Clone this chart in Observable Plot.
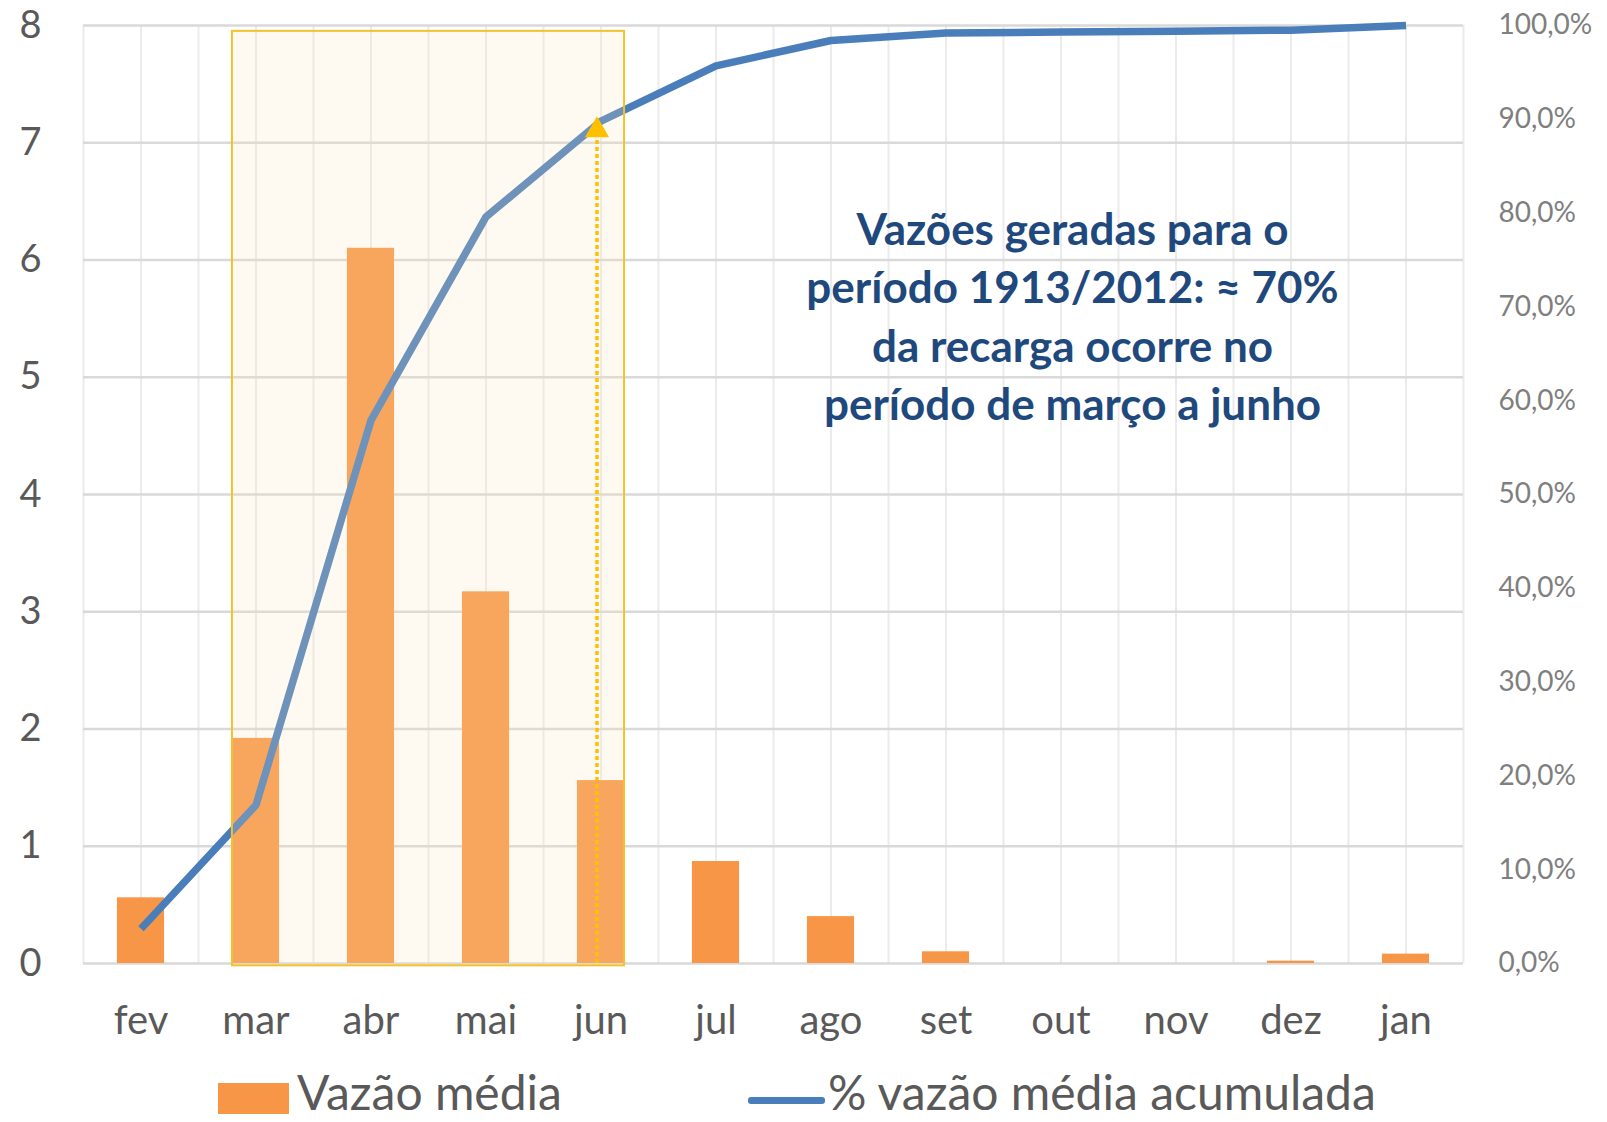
<!DOCTYPE html>
<html>
<head>
<meta charset="utf-8">
<script src="https://cdn.jsdelivr.net/npm/d3@7"></script>
<script src="https://cdn.jsdelivr.net/npm/@observablehq/plot@0.6"></script>
<style>
  html, body { margin: 0; padding: 0; background: #ffffff; overflow: hidden; }
  #legend { position: relative; width: 1607px; height: 62px; font-family: Lato, sans-serif; color: #595959; }
  #legend .sw { position: absolute; }
  #legend .lt { position: absolute; font-size: 48px; line-height: normal; white-space: nowrap; }
</style>
</head>
<body>
<div id="chart"></div>
<div id="legend">
  <div class="sw" style="left:218px; top:23px; width:71px; height:31px; background:#F79646;"></div>
  <div class="lt" style="left:297px; top:3px;">Vazão média</div>
  <div class="sw" style="left:748px; top:37px; width:77px; height:7px; background:#4A7EBB; border-radius:3px;"></div>
  <div class="lt" style="left:828px; top:3px;">% vazão média acumulada</div>
</div>
<script>
// ---- data ----
const months = ["fev", "mar", "abr", "mai", "jun", "jul", "ago", "set", "out", "nov", "dez", "jan"];
const vazaoMedia = [0.56, 1.92, 6.10, 3.17, 1.56, 0.87, 0.40, 0.10, 0, 0, 0.02, 0.08];
const acumuladaPct = [3.7, 16.9, 57.9, 79.6, 89.8, 95.7, 98.4, 99.2, 99.3, 99.4, 99.5, 100];
const leftTicks = [0, 1, 2, 3, 4, 5, 6, 7, 8];
const rightTicks = [0, 10, 20, 30, 40, 50, 60, 70, 80, 90, 100];
const highlightFrom = "mar";
const highlightTo = "jun";
const arrowMonth = "jun";
const annotation = "Vazões geradas para o\nperíodo 1913/2012: ≈ 70%\nda recarga ocorre no\nperíodo de março a junho";

// ---- derived ----
const yMax = 8;
const pctToY = p => p / 100 * yMax;
const rows = months.map((m, i) => ({i, m, v: vazaoMedia[i], p: acumuladaPct[i]}));
const barHalf = 0.205;
const iFrom = months.indexOf(highlightFrom);
const iTo = months.indexOf(highlightTo);
const arrowRow = rows[months.indexOf(arrowMonth)];
const gridX = d3.range(-0.5, months.length, 0.5);

const plot = Plot.plot({
  width: 1607,
  height: 1060,
  marginLeft: 83,
  marginRight: 144,
  marginTop: 25,
  marginBottom: 97,
  style: {fontFamily: "Lato, sans-serif", color: "#595959", background: "#ffffff"},
  x: {domain: [-0.5, months.length - 0.5], axis: null},
  y: {domain: [0, yMax], axis: null},
  marks: [
    Plot.ruleX(gridX, {y1: 0, y2: yMax, stroke: "#EBEBEB", strokeWidth: 2}),
    Plot.ruleY(leftTicks, {stroke: "#D9D9D9", strokeWidth: 2.5}),
    Plot.rectY(rows, {x1: d => d.i - barHalf, x2: d => d.i + barHalf, y: "v", fill: "#F79646"}),
    Plot.line(rows, {x: "i", y: d => pctToY(d.p), stroke: "#4A7EBB", strokeWidth: 7.5, strokeLinejoin: "round", strokeLinecap: "butt"}),
    Plot.rect([0], {x1: iFrom - barHalf, x2: iTo + barHalf, y1: -0.02, y2: 7.95, fill: "#FFE8B8", fillOpacity: 0.2, stroke: "#F2C12E", strokeWidth: 2}),
    Plot.ruleX([arrowRow], {x: "i", y1: 0, y2: d => pctToY(d.p) - 0.1, stroke: "#FFC000", strokeWidth: 3.5, strokeDasharray: "4,3", dx: -4}),
    Plot.dot([arrowRow], {x: "i", y: d => pctToY(d.p), symbol: "triangle", r: 9, fill: "#FFC000", stroke: null, dx: -4, dy: 9}),
    Plot.text([annotation], {x: 8.1, y: 5.54, text: d => d, fontSize: 44, fontWeight: "bold", fill: "#1F497D", lineHeight: 1.33, textAnchor: "middle"}),
    Plot.axisX({ticks: d3.range(months.length), tickFormat: i => months[i], tickSize: 0, tickPadding: 42, fontSize: 40, anchor: "bottom", label: null}),
    Plot.axisY({ticks: leftTicks, tickFormat: d => String(d), tickSize: 0, tickPadding: 42, fontSize: 38, anchor: "left", label: null}),
    Plot.axisY({ticks: rightTicks.map(pctToY), tickFormat: d => (d / yMax * 100).toFixed(1).replace(".", ",") + "%", tickSize: 0, tickPadding: 35, fontSize: 28, anchor: "right", label: null, fill: "#7F7F7F"})
  ]
});
document.getElementById("chart").appendChild(plot);
</script>
</body>
</html>
